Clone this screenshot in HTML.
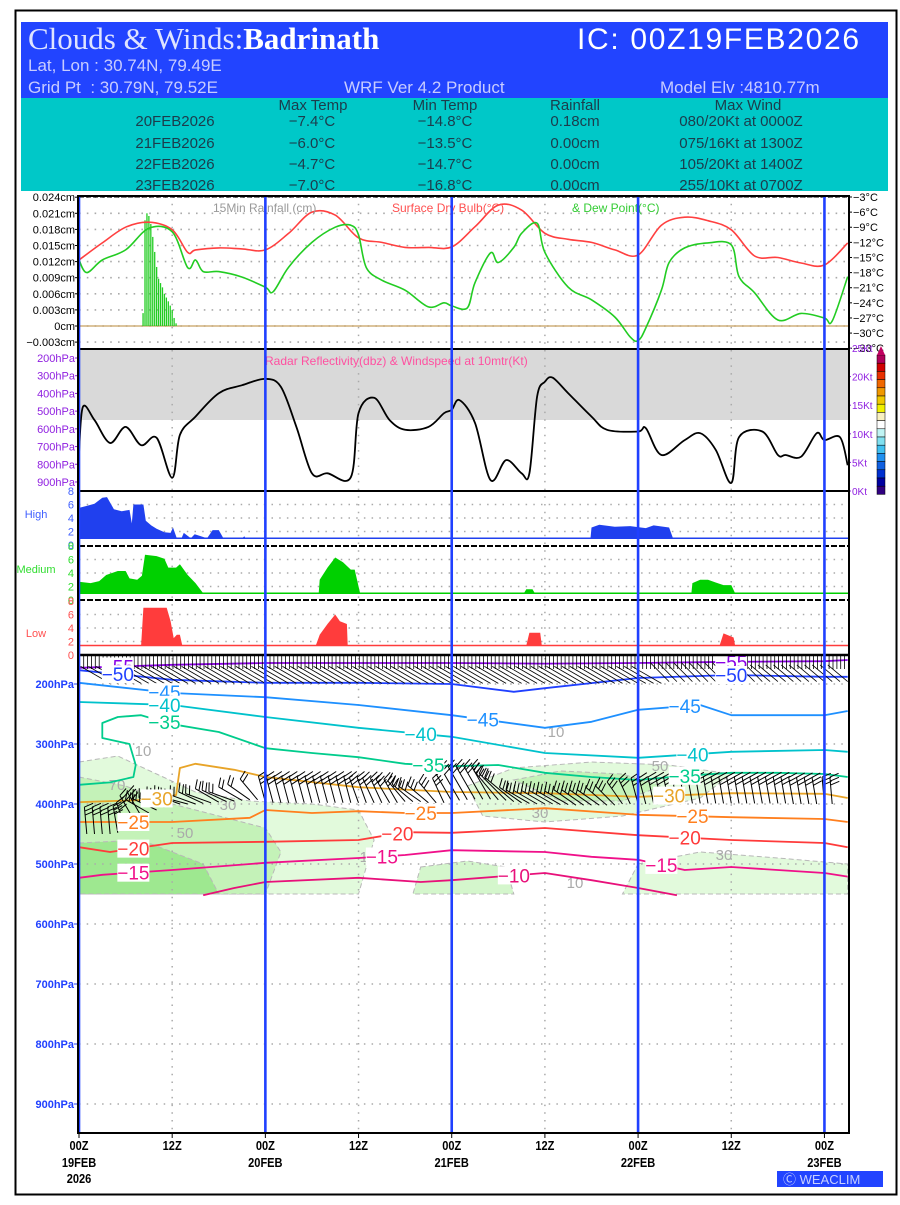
<!DOCTYPE html>
<html><head><meta charset="utf-8"><title>Clouds &amp; Winds: Badrinath</title>
<style>
html,body{margin:0;padding:0;background:#fff;}
body{width:900px;height:1200px;overflow:hidden;font-family:"Liberation Sans",sans-serif;}
svg text{font-family:"Liberation Sans",sans-serif;}
</style></head>
<body>
<svg id="chart" width="900" height="1200" viewBox="0 0 900 1200" xmlns="http://www.w3.org/2000/svg">
<rect x="15.5" y="10.5" width="881" height="1184" fill="#fff" stroke="#000" stroke-width="2"/>
<g>
 <rect x="21" y="22" width="867" height="76" fill="#2244ff"/>
 <text x="28" y="49" font-size="31" fill="#dfe4ff" style="font-family:'Liberation Serif',serif">Clouds &amp; Winds:<tspan font-weight="bold" fill="#fff">Badrinath</tspan></text>
 <text x="577" y="49" font-size="30" fill="#fff" textLength="282">IC: 00Z19FEB2026</text>
 <text x="28" y="71" font-size="17" fill="#c8ccff">Lat, Lon : 30.74N, 79.49E</text>
 <text x="28" y="93" font-size="17" fill="#c8ccff" xml:space="preserve">Grid Pt  : 30.79N, 79.52E</text>
 <text x="344" y="93" font-size="17" fill="#c8ccff">WRF Ver 4.2 Product</text>
 <text x="660" y="93" font-size="17" fill="#c8ccff">Model Elv :4810.77m</text>
 <rect x="21" y="98" width="867" height="93" fill="#00c8c8"/>
 <g font-size="15" fill="#1c3c4c" text-anchor="middle">
  <text x="313" y="110">Max Temp</text><text x="445" y="110">Min Temp</text><text x="575" y="110">Rainfall</text><text x="748" y="110">Max Wind</text>
  <text x="175" y="126">20FEB2026</text><text x="312" y="126">−7.4°C</text><text x="445" y="126">−14.8°C</text><text x="575" y="126">0.18cm</text><text x="741" y="126">080/20Kt at 0000Z</text>
  <text x="175" y="148">21FEB2026</text><text x="312" y="148">−6.0°C</text><text x="445" y="148">−13.5°C</text><text x="575" y="148">0.00cm</text><text x="741" y="148">075/16Kt at 1300Z</text>
  <text x="175" y="169">22FEB2026</text><text x="312" y="169">−4.7°C</text><text x="445" y="169">−14.7°C</text><text x="575" y="169">0.00cm</text><text x="741" y="169">105/20Kt at 1400Z</text>
  <text x="175" y="190">23FEB2026</text><text x="312" y="190">−7.0°C</text><text x="445" y="190">−16.8°C</text><text x="575" y="190">0.00cm</text><text x="741" y="190">255/10Kt at 0700Z</text>
 </g>
</g>
<g id="layer-bg"></g>
<g id="layer-main"></g>
<g id="layer-top"></g>
<rect x="777" y="1171" width="106" height="16" fill="#2244ff"/>
<text x="783" y="1184" font-size="13" fill="#c8d0ff">Ⓒ WEACLIM</text>
</svg>
<script>
// ---------- DATA ----------
var tempHours = [0,3,6,9,12,14,15,18,21,24,27,30,33,36,39,42,45,48,51,54,57,60,63,66,69,72,75,78,81,84,87,90,93,96,99];
var dryBulb   = [-15.5,-12.1,-9.0,-8.0,-9.5,-14.0,-13.5,-13.1,-13.3,-13.5,-10.2,-6.0,-6.6,-11.1,-12.0,-13.0,-13.0,-12.9,-8.9,-4.6,-5.6,-10.2,-11.4,-12.0,-13.5,-14.5,-8.6,-7.0,-7.7,-9.5,-14.7,-15.0,-16.1,-16.5,-12.1];
var dewHours  = [0,1,3,6,9,12,14,15,16,18,21,24,25,27,30,33,35,36,37,39,42,45,47,48,50,51,53,54,56,57,59,60,63,66,69,71,72,73,75,76,78,81,84,85,87,90,93,96,97,99];
var dewPoint  = [-15.5,-18,-15.5,-13.5,-9.2,-9.9,-17,-15.5,-17.8,-17.8,-18.9,-20.9,-21.8,-16.9,-12,-9,-8.6,-10.5,-17,-19.5,-21.5,-24.8,-24,-24.6,-25,-20,-14.1,-16,-13,-10.2,-8.2,-14,-20.9,-23.4,-26.8,-30.8,-31.5,-29,-21.5,-16,-13.1,-12.1,-12.5,-18.8,-22,-27.4,-26.1,-27,-27.6,-18.8];
var rainStart = 8.25;
var rainStep = 0.25;
var rain15 = [0.0024,0.0197,0.021,0.0205,0.019,0.0166,0.0138,0.011,0.0088,0.008,0.0072,0.006,0.0053,0.0046,0.0038,0.003,0.0015,0.0005];
var windHours = [0,0.5,2,4,6,8,10,12,13,15,18,21,24,26,28,30,32,35,36,38,40,42,45,47,48,49,51,53,55,57,58,59,60,61,63,66,68,72,73,75,78,80,82,84,85,88,90,91,93,95,96,98,99];
var windKt    = [6.6,14.7,12.4,8.4,11.2,8,9.3,2.3,9.8,13,17.1,18.5,19.6,18.2,11.2,3.1,3.1,2.4,13.6,16.3,12.4,10.7,11.2,13.6,14.2,15.9,11.9,1.9,5.4,3.1,3.1,16.5,19.1,19.8,17.1,13,10.7,10.4,11,6.3,8.9,10.1,7.2,1.4,9.4,10.4,6.3,6.3,6,10.1,8.9,9.4,4.5];
var highHours = [0,1,2,3,3.6,4.5,5.5,6.5,6.8,7,8.3,8.6,9.3,10,11,11.8,12.1,12.6,13.2,13.5,14.4,14.9,16.5,17.2,18,18.6,21,21.3,66,67,69,71,73,74,76,76.5];
var highCloud = [5.5,5.8,6.1,7.0,7.1,5.3,5.0,5.2,3.2,6.0,6.0,3.6,2.9,2.4,1.9,1.8,2.6,1.0,1.0,1.8,1.0,1.6,1.0,2.2,2.2,1.0,1.0,1.3,2.6,3.0,2.7,2.8,2.5,2.9,2.6,1.0];
var medHours  = [0,1.5,2.6,3.5,5,6,6.5,7.5,8.1,8.5,10,11,11.5,12.5,13,14,15,16,31,32,33,34,35,35.5,36.2,57.3,57.6,58.4,58.7,79,80,81,82,83,84,84.5];
var medCloud  = [2.7,2.5,2.8,3.7,4.3,4.3,3.2,3.0,3.6,6.7,6.5,6.1,4.8,4.8,5.3,3.7,2.5,1.0,3.0,4.8,6.3,5.6,4.5,4.5,1.0,1.0,1.6,1.6,1.0,2.5,3.0,3.0,2.6,2.2,2.2,1.0];
var lowHours  = [8,8.3,11.3,11.8,12.2,12.6,13,13.3,30.5,31,32,33,33.6,34.5,34.6,57.6,58,59.4,59.6,82.5,83,84.3,84.5];
var lowCloud  = [1.4,7.0,7.0,5.0,2.5,3.0,3.0,1.4,1.4,3.0,4.6,6.0,5.0,4.6,1.4,1.4,3.3,3.3,1.4,1.4,3.2,2.6,1.4];
var isoLabels = ["-55","-50","-45","-40","-35","-30","-25","-20","-15","-10"];
var isoColors = ["#8a00e6","#2040ff","#1e90ff","#00c2cc","#00cc8c","#e8a428","#ff7f1e","#ff3a3a","#f0108a","#e8107a"];
var iso55T=[0,12,24,36,48,60,72,84,96,99], iso55P=[173,168,165,165,165,166,165,163,162,160];
var iso50T=[0,12,24,36,48,56,60,72,84,96,99], iso50P=[177,193,198,198,200,213,207,190,185,188,188];
var iso45T=[0,12,24,36,48,60,66,72,80,84,96,99], iso45P=[198,215,222,235,252,273,263,243,235,252,252,245];
var iso40T=[0,12,24,36,48,60,72,84,96,99], iso40P=[230,235,255,273,288,315,323,313,310,313];
var iso35T=[0,4,7,7.3,6.5,3,3,5,8,12,18,24,30,36,42,48,54,60,66,72,78,84,90,96,99];
var iso35P=[368,364,355,335,300,290,265,255,252,267,280,307,315,322,333,337,335,348,355,360,353,348,348,350,355];
var iso30T=[0,9,12.5,13,15,20,24,36,48,60,72,84,96,99], iso30P=[397,393,385,340,333,343,355,372,380,382,388,382,383,390];
var iso25T=[0,12,22,24,30,36,42,48,60,72,84,96,99], iso25P=[430,430,423,410,415,412,415,415,407,418,422,425,430];
var iso20T=[0,4,12,24,36,42,48,60,72,84,96,99], iso20P=[472,480,465,463,460,447,448,440,452,460,465,472];
var iso15T=[0,3,12,24,36,42,48,60,66,72,78,84,96,99], iso15P=[523,518,510,498,490,485,477,480,488,493,510,505,515,521];
var iso10T=[16,20,24,36,44,48,60,66,72,77], iso10P=[552,540,530,523,530,527,515,527,540,552];
var isoLabelT=[[5,84],[5,84],[11,52,78],[11,44,79],[11,45,78],[10,76],[7,44,79],[7,41,78],[7,39,75],[56]];
var cloudLightT=[0,5,10,15,22,30,36,38,36,0], cloudLightP=[330,320,350,380,395,400,410,460,550,550];
var cloudMidT=[0,6,12,18,24,26,24,0], cloudMidP=[355,370,400,420,440,480,550,550];
var cloudDarkT=[0,8,12,16,18,0], cloudDarkP=[465,460,480,500,550,550];
var cloud2T=[50,56,66,76,84,80,70,60,52], cloud2P=[370,340,330,335,350,390,420,430,420];
var cloud2bT=[56,62,70,75,70,62], cloud2bP=[360,345,350,370,395,395];
var cloud3T=[72,80,90,99,99,70], cloud3P=[500,480,490,500,550,550];
var cloud4T=[44,50,55,56,43], cloud4P=[505,495,505,550,550];
var upperBarbT=[], upperBarbDir=[];
var midBarbT=[1,2,3,4,5,6,7,8,9,10,11,12,13,14,15,16,17,18,19,20,21,22,23,24,25,26,27,28,29,30,31,32,33,34,35,36,37,38,39,40,41,42,43,44,45,46,47,48,49,50,51,52,53,54,55,56,57,58,59,60,61,62,63,64,65,66,67,68,69,70,71,72,73,74,75,76,77,78,79,80,81,82,83,84,85,86,87,88,89,90,91,92,93,94,95,96,97];
var midBarbP=[450,450,450,450,448,440,425,420,415,410,405,402,400,400,400,399,398,397,396,395,394,393,393,397,398,398,398,398,398,398,398,398,398,398,398,398,398,398,398,398,398,396,396,396,398,398,398,395,394,393,392,392,392,393,394,396,398,399,400,400,400,401,401,402,402,402,402,402,402,400,400,400,400,399,399,399,399,399,399,399,399,399,399,399,399,399,399,399,399,399,399,400,400,400,400,400,400];
var midBarbDir=[355,355,355,355,350,340,330,330,300,295,290,290,290,285,290,295,290,300,295,290,300,305,320,345,345,345,345,345,345,345,345,345,345,345,345,340,340,335,335,330,330,320,310,305,310,320,335,330,330,330,330,330,330,320,315,310,305,300,300,300,300,300,300,305,305,305,305,310,315,325,335,345,345,348,348,348,350,350,350,350,350,350,350,350,350,350,350,350,350,350,350,350,350,350,350,355,355];
var midBarbKt=[30,30,30,30,25,25,25,25,25,25,20,20,20,20,20,20,20,20,20,20,20,20,20,25,25,25,25,25,25,25,25,25,25,25,25,25,25,25,25,25,25,25,25,25,25,25,25,30,30,30,30,30,30,30,30,30,30,30,30,30,30,30,30,30,30,30,30,30,30,30,25,25,25,25,25,25,25,25,25,25,25,25,25,25,25,25,25,25,25,25,25,25,25,25,25,25,25];
for (var h=0; h<=98.5; h+=0.5){ upperBarbT.push(h); upperBarbDir.push(h<72?300:(h<85?315:310)); }

// ---------- SCALES ----------
var X0=79, PXH=7.765;
function X(t){return X0+t*PXH;}
function YT(T){return 197+(-3-T)*5.04;}
function YR(v){return 326-v/0.003*16.1;}
function YP1(p){return 358+(p-200)*0.1771;}
function YK(k){return 491-k*5.72;}
function YH(v){return 545-v*6.75;}
function YM(v){return 600-v*6.75;}
function YL(v){return 655-v*6.75;}
function YP(p){return 684+(p-200)*0.6;}

var NS='http://www.w3.org/2000/svg';
var gBg=document.getElementById('layer-bg'), gMain=document.getElementById('layer-main'), gTop=document.getElementById('layer-top');
function mk(tag,attrs,parent){var e=document.createElementNS(NS,tag);for(var k in attrs)e.setAttribute(k,attrs[k]);(parent||gMain).appendChild(e);return e;}
function txt(s,x,y,attrs,parent){var e=mk('text',attrs,parent);e.setAttribute('x',x);e.setAttribute('y',y);e.textContent=s;return e;}
function pathFrom(ts,vs,fy){var d='';for(var i=0;i<ts.length;i++)d+=(i?'L':'M')+X(ts[i]).toFixed(1)+' '+fy(vs[i]).toFixed(1);return d;}
function smooth(ts,vs,fy){
  var pts=ts.map(function(t,i){return [X(t),fy(vs[i])];});
  var d='M'+pts[0][0].toFixed(1)+' '+pts[0][1].toFixed(1);
  for(var i=0;i<pts.length-1;i++){var p0=pts[i-1]||pts[i],p1=pts[i],p2=pts[i+1],p3=pts[i+2]||p2;
    var c1x=p1[0]+(p2[0]-p0[0])/6,c1y=p1[1]+(p2[1]-p0[1])/6,c2x=p2[0]-(p3[0]-p1[0])/6,c2y=p2[1]-(p3[1]-p1[1])/6;
    d+='C'+c1x.toFixed(1)+' '+c1y.toFixed(1)+' '+c2x.toFixed(1)+' '+c2y.toFixed(1)+' '+p2[0].toFixed(1)+' '+p2[1].toFixed(1);}
  return d;}
var XR=848;

// ---------- PANEL 1: temperature & rain ----------
var el;
el=mk('rect',{x:X0,y:196,width:XR-X0,height:153,fill:'#fff'},gBg);


var rainTicks=[0.024,0.021,0.018,0.015,0.012,0.009,0.006,0.003,0,-0.003];
var rainTickLbl=['0.024cm','0.021cm','0.018cm','0.015cm','0.012cm','0.009cm','0.006cm','0.003cm','0cm','-0.003cm'];
rainTicks.forEach(function(v,i){
  el=mk('line',{x1:X0,x2:XR,y1:YR(v),y2:YR(v),stroke:'#aaa','stroke-width':1.6,'stroke-dasharray':'1.6 6.2'},gBg);
  
  
  el=txt(rainTickLbl[i].replace('-','−'),75,YR(v)+4,{'font-size':11,'text-anchor':'end',fill:'#000'});
  
  
  mk('line',{x1:75,x2:79,y1:YR(v),y2:YR(v),stroke:'#000'});
});
var tempTicks=[-3,-6,-9,-12,-15,-18,-21,-24,-27,-30,-33];
tempTicks.forEach(function(T){
  el=txt('−'+Math.abs(T)+'°C',853,YT(T)+4,{'font-size':11,fill:'#000'});
  
  
  mk('line',{x1:848,x2:852,y1:YT(T),y2:YT(T),stroke:'#000'});
});
el=mk('line',{x1:X0,x2:XR,y1:YR(0),y2:YR(0),stroke:'#c8a060','stroke-width':1.2});


rain15.forEach(function(v,i){
  var t=rainStart+i*rainStep;
  el=mk('line',{x1:X(t),x2:X(t),y1:YR(0),y2:YR(v),stroke:'#22cc22','stroke-width':1.3});
  
  
});
el=mk('path',{d:smooth(tempHours,dryBulb,YT),fill:'none',stroke:'#ff4040','stroke-width':1.6});


el=mk('path',{d:smooth(dewHours,dewPoint,YT),fill:'none',stroke:'#22cc22','stroke-width':1.6});


el=txt('15Min Rainfall (cm)',213,212,{'font-size':12,fill:'#999'});


el=txt('Surface Dry Bulb(°C)',392,212,{'font-size':12,fill:'#ff5050'});


el=txt('& Dew Point(°C)',572,212,{'font-size':12,fill:'#33cc33'});


el=mk('line',{x1:X0,x2:XR,y1:196.5,y2:196.5,stroke:'#000','stroke-width':2,'stroke-dasharray':'5 2'});



// ---------- PANEL 2: radar & wind ----------
el=mk('rect',{x:X0,y:349,width:XR-X0,height:71,fill:'#d9d9d9'},gBg);


var p1Ticks=[200,300,400,500,600,700,800,900];
p1Ticks.forEach(function(p){
  el=txt(p+'hPa',75,YP1(p)+4,{'font-size':11,'text-anchor':'end',fill:'#9020e0'});
  
  
  mk('line',{x1:75,x2:79,y1:YP1(p),y2:YP1(p),stroke:'#9020e0'});
});
var ktTicks=[25,20,15,10,5,0];
ktTicks.forEach(function(k){
  el=txt(k+'Kt',852,YK(k)+4,{'font-size':10,fill:'#9020e0'});
  
  
  mk('line',{x1:848,x2:851,y1:YK(k),y2:YK(k),stroke:'#9020e0'});
});
el=mk('path',{d:smooth(windHours,windKt,YK),fill:'none',stroke:'#000','stroke-width':1.8});


el=txt('Radar Reflectivity(dbz) & Windspeed at 10mtr(Kt)',265,365,{'font-size':12,fill:'#ff50a0'});


var cbColors=['#b0005a','#d00000','#e83000','#f06800','#f09800','#f0c800','#f0f000','#f8f0c0','#ffffff','#c0f4f4','#80e0f0','#40c0f0','#2090f0','#1060e0','#0030d0','#0000a0','#300080'];
cbColors.forEach(function(c,i){
  el=mk('rect',{x:877,y:355+i*8.2,width:8,height:8.2,fill:c,stroke:'#000','stroke-width':0.5});
  
  
});
mk('path',{d:'M877 355 L881 346 L885 355Z',fill:'#c00060'});
el=mk('line',{x1:X0,x2:XR,y1:349,y2:349,stroke:'#000','stroke-width':2});



// ---------- CLOUD PANELS ----------
function cloudPanel(name,hours,vals,fy,color,label,lblColor,lblY,top,base){
  [2,4,6].forEach(function(v){mk('line',{x1:X0,x2:XR,y1:fy(v),y2:fy(v),stroke:'#aaa','stroke-width':1.5,'stroke-dasharray':'1.5 6.2'},gBg);});
  var d='M'+X(hours[0]).toFixed(1)+' '+fy(base);
  for(var i=0;i<hours.length;i++){
    if(i>0 && hours[i]-hours[i-1]>3){
      d+='L'+(X(hours[i-1])+1).toFixed(1)+' '+fy(base)+'L'+(X(hours[i])-1).toFixed(1)+' '+fy(base);
    }
    d+='L'+X(hours[i]).toFixed(1)+' '+fy(vals[i]).toFixed(1);
  }
  d+='L'+X(hours[hours.length-1]).toFixed(1)+' '+fy(base)+'Z';
  el=mk('path',{d:d,fill:color,stroke:'none'});
  
  
  el=mk('line',{x1:X0,x2:XR,y1:fy(base),y2:fy(base),stroke:color,'stroke-width':1.5});
  
  
  [0,2,4,6,8].forEach(function(v){
    el=txt(String(v),74,fy(v)+4,{'font-size':11,'text-anchor':'end',fill:lblColor});
    
    
  });
  el=txt(label,36,lblY,{'font-size':11,'text-anchor':'middle',fill:lblColor});
  
  
  el=mk('line',{x1:X0,x2:XR,y1:top,y2:top,stroke:'#000','stroke-width':2,'stroke-dasharray':top>492?'6 2':'none'});
  
  
}
cloudPanel('high',highHours,highCloud,YH,'#2040ee','High','#4060ff',518,491,1);
cloudPanel('medium',medHours,medCloud,YM,'#00d000','Medium','#30dd30',573,546,1);
cloudPanel('low',lowHours,lowCloud,YL,'#ff3c3c','Low','#ff5050',637,600,1.4);

// ---------- CROSS SECTION ----------
function poly(ts,ps,fill,name){
  var d='';for(var i=0;i<ts.length;i++)d+=(i?'L':'M')+X(ts[i]).toFixed(1)+' '+YP(ps[i]).toFixed(1);
  el=mk('path',{d:d+'Z',fill:fill,stroke:'#b8b8b8','stroke-width':1,'stroke-dasharray':'5 3'},gBg);
  
  
}
poly(cloudLightT,cloudLightP,'#e2fadc','cloud-fraction-10');
poly(cloudMidT,cloudMidP,'#c4f2b8','cloud-fraction-30');
poly(cloudDarkT,cloudDarkP,'#9ee890','cloud-fraction-70');
poly(cloud2T,cloud2P,'#e2fadc','cloud-fraction-10');
poly(cloud2bT,cloud2bP,'#c4f2b8','cloud-fraction-50');
poly(cloud3T,cloud3P,'#e2fadc','cloud-fraction-10');
poly(cloud4T,cloud4P,'#d4f6cc','cloud-fraction-10');
[['70',117,790],['50',185,838],['30',228,810],['10',143,756],['10',556,737],['50',660,771],['30',540,818],['30',724,860],['10',575,888],['10',368,862]].forEach(function(a){
  el=txt(a[0],a[1],a[2],{'font-size':15,fill:'#aaa','text-anchor':'middle'});
  
  
});
var pTicks=[200,300,400,500,600,700,800,900];
pTicks.forEach(function(p){
  el=mk('line',{x1:X0,x2:XR,y1:YP(p),y2:YP(p),stroke:'#aaa','stroke-width':1.5,'stroke-dasharray':'1.5 6.2'},gBg);
  
  
  el=txt(p+'hPa',74,YP(p)+4,{'font-size':11,'font-weight':'bold','text-anchor':'end',fill:'#2040ff'});
  
  
  mk('line',{x1:74,x2:79,y1:YP(p),y2:YP(p),stroke:'#2040ff'});
});
[12,36,60,84].forEach(function(t){
  el=mk('line',{x1:X(t),x2:X(t),y1:196,y2:1133,stroke:'#aaa','stroke-width':1.5,'stroke-dasharray':'1.5 6.2'},gBg);
  
  
});
var isoT=[iso55T,iso50T,iso45T,iso40T,iso35T,iso30T,iso25T,iso20T,iso15T,iso10T];
var isoP=[iso55P,iso50P,iso45P,iso40P,iso35P,iso30P,iso25P,iso20P,iso15P,iso10P];
function interpP(ts,ps,t){for(var i=0;i<ts.length-1;i++){if(ts[i]<=t&&ts[i+1]>=t&&ts[i+1]>ts[i]){return ps[i]+(ps[i+1]-ps[i])*(t-ts[i])/(ts[i+1]-ts[i]);}}return ps[ps.length-1];}
isoT.forEach(function(ts,k){
  el=mk('path',{d:pathFrom(ts,isoP[k],YP),fill:'none',stroke:isoColors[k],'stroke-width':1.8,'stroke-linejoin':'round'});
  
  
});
// wind barbs
function barb(t,p,dir,len,kt,name,sw){
  var x=X(t),y=YP(p),r=dir*Math.PI/180;
  var ux=Math.sin(r),uy=-Math.cos(r);
  var x2=x+ux*len,y2=y+uy*len;
  var d='M'+x.toFixed(1)+' '+y.toFixed(1)+'L'+x2.toFixed(1)+' '+y2.toFixed(1);
  var n=Math.round(kt/10),px=-uy,py=ux;
  for(var i=0;i<n;i++){var bx=x2-ux*i*4,by=y2-uy*i*4;d+='M'+bx.toFixed(1)+' '+by.toFixed(1)+'L'+(bx+px*9+ux*3).toFixed(1)+' '+(by+py*9+uy*3).toFixed(1);}
  el=mk('path',{d:d,fill:'none',stroke:'#000','stroke-width':sw||1.1});
  
  
}
upperBarbT.forEach(function(t,i){
  barb(t+0.6,175,0,13,0,'upper-wind-barb',0.8);
  if(t<96 && i%2===0) barb(t+4,t<72?199:196,upperBarbDir[i],t<72?34:26,0,'upper-wind-barb',0.8);
});
midBarbT.forEach(function(t,i){
  barb(t,midBarbP[i],midBarbDir[i],midBarbT[i]>=48&&midBarbT[i]<=56?38:27,midBarbKt[i],'mid-wind-barb',1.0);
});
isoT.forEach(function(ts,k){
  isoLabelT[k].forEach(function(t){
    var p=interpP(ts,isoP[k],t);
    var w=isoLabels[k].length*10+2;
    mk('rect',{x:X(t)-w/2,y:YP(p)-9,width:w,height:18,fill:'#fff'},gTop);
    el=txt(isoLabels[k].replace('-','−'),X(t),YP(p)+7,{'font-size':19,'text-anchor':'middle',fill:isoColors[k]},gTop);
    
    
  });
});
el=mk('line',{x1:X0,x2:XR,y1:655,y2:655,stroke:'#000','stroke-width':2.5},gTop);


[0,24,48,72,96].forEach(function(t){
  el=mk('line',{x1:X(t),x2:X(t),y1:196,y2:1133,stroke:'#2040ff','stroke-width':2.6},gTop);
  
  
});
el=mk('rect',{x:X0-1,y:196,width:XR-X0+2,height:937,fill:'none',stroke:'#000','stroke-width':2},gTop);


var xTickT=[0,12,24,36,48,60,72,84,96];
var xTickL1=['00Z','12Z','00Z','12Z','00Z','12Z','00Z','12Z','00Z'];
var xTickL2=['19FEB','','20FEB','','21FEB','','22FEB','','23FEB'];
function sx(x){return 'translate('+x+' 0) scale(0.85 1) translate('+(-x)+' 0)';}
xTickT.forEach(function(t,i){
  mk('line',{x1:X(t),x2:X(t),y1:1133,y2:1138,stroke:'#000'},gTop);
  el=txt(xTickL1[i],X(t),1150,{'font-size':13,'font-weight':'bold','text-anchor':'middle',fill:'#000','transform':sx(X(t))},gTop);
  
  
  if(xTickL2[i]){
    el=txt(xTickL2[i],X(t),1167,{'font-size':13,'font-weight':'bold','text-anchor':'middle',fill:'#000','transform':sx(X(t))},gTop);
    
    
  }
});
el=txt('2026',X(0),1183,{'font-size':13,'font-weight':'bold','text-anchor':'middle',fill:'#000','transform':sx(X(0))},gTop);


</script>
</body></html>
